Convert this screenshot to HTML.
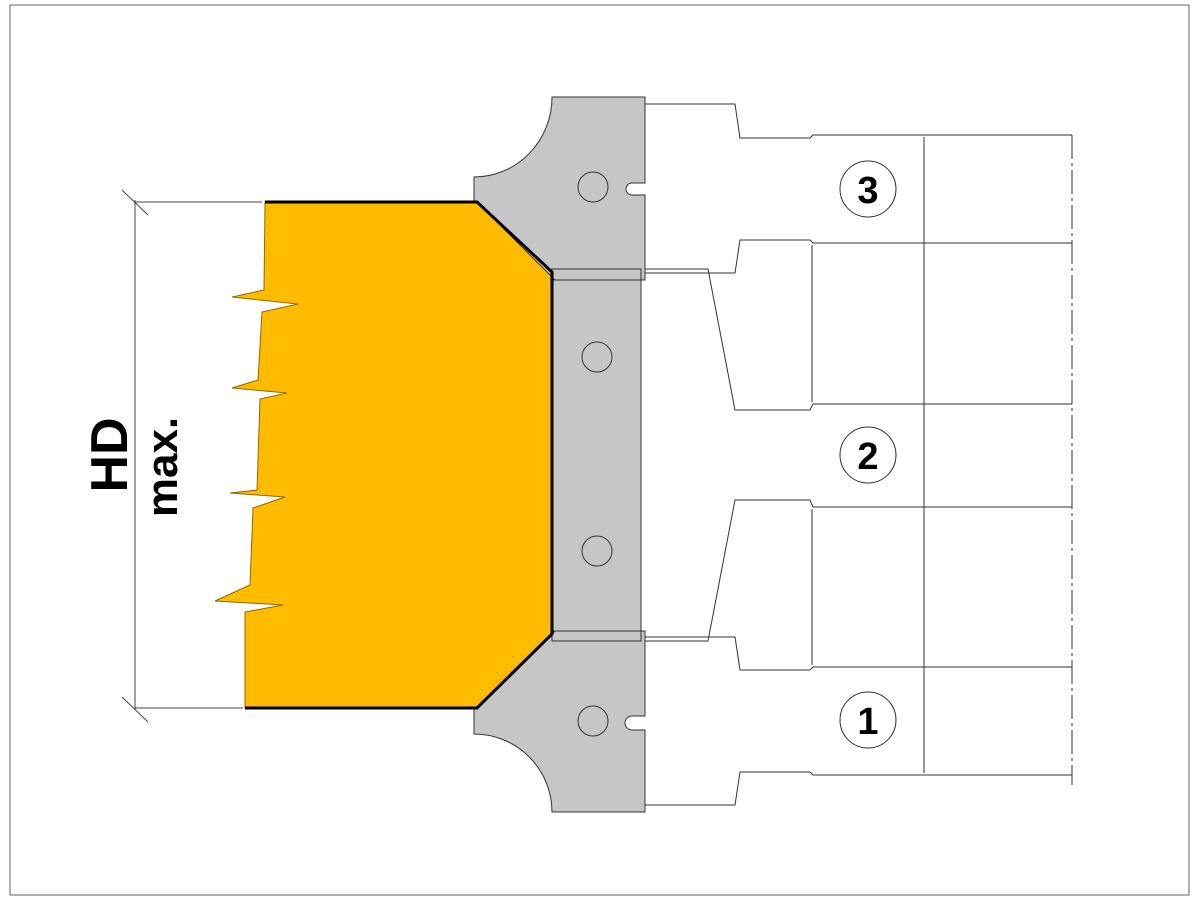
<!DOCTYPE html>
<html><head><meta charset="utf-8"><style>body{margin:0;background:#fff}svg{display:block}</style></head><body>
<svg width="1200" height="900" viewBox="0 0 1200 900" xmlns="http://www.w3.org/2000/svg">
<rect x="10" y="5" width="1179" height="890" fill="none" stroke="#666" stroke-width="1"/>
<!-- dimension -->
<g stroke="#444" stroke-width="1" fill="none">
<line x1="135" y1="200" x2="135" y2="710"/>
<line x1="135" y1="202" x2="262" y2="202"/>
<line x1="135" y1="708" x2="243" y2="708"/>
<line x1="122" y1="190" x2="148" y2="215"/>
<line x1="122" y1="697" x2="148" y2="722"/>
</g>
<text transform="translate(127,455) rotate(-90)" text-anchor="middle" font-family="Liberation Sans, sans-serif" font-weight="bold" font-size="52">HD</text>
<text transform="translate(177,467) rotate(-90)" text-anchor="middle" font-family="Liberation Sans, sans-serif" font-weight="bold" font-size="44">max.</text>
<!-- yellow workpiece -->
<polygon points="265,202 477,202 552,272 552,634 477,708 245,708 245,612 283,605 215,601 250,585 253,508 285,497 230,493 257,490 260,399 287,393 232,388 258,380 262,312 298,304 232,297 264,290" fill="#ffbb00" stroke="#8a6a00" stroke-width="1"/>
<!-- gray pieces -->
<g fill="#c6c6c6" stroke="#333" stroke-width="1">
<rect x="552" y="269" width="89" height="372"/>
<path d="M552,97 L645,97 L645,183 L632,183 A6,6 0 0 0 632,195 L645,195 L645,280 L555,280 L477,202 L474,202 L474,177 A78,80 0 0 0 552,97 Z"/>
<path d="M552,812 L645,812 L645,730 L632,730 A6,6 0 0 1 632,716 L645,716 L645,631 L555,631 L477,708 L474,708 L474,734 A78,78 0 0 1 552,812 Z"/>
<rect x="552" y="269" width="89" height="11" fill="none"/>
<rect x="552" y="631" width="89" height="10" fill="none"/>
</g>
<g stroke="#000" stroke-width="3" fill="none">
<polyline points="265,202 477,202 552,272 552,634 477,708 245,708"/>
</g>
<g fill="none" stroke="#333" stroke-width="1">
<circle cx="593" cy="187" r="15"/>
<circle cx="597" cy="357" r="15"/>
<circle cx="597" cy="551" r="15"/>
<circle cx="593" cy="721" r="15"/>
</g>
<!-- right outlines -->
<g fill="none" stroke="#333" stroke-width="1">
<polyline points="645,104 735,104 740,138 810,138 813,135 1072,135"/>
<polyline points="645,273 735,273 740,240 810,240 813,243 1072,243"/>
<polyline points="645,269 708,269 735,410 810,410 813,404 1072,404"/>
<polyline points="645,641 708,641 735,500 810,500 813,507 1072,507"/>
<polyline points="645,637 735,637 740,670 810,670 813,667 1072,667"/>
<polyline points="645,805 735,805 740,772 810,772 813,775 1072,775"/>
<line x1="812" y1="245" x2="812" y2="402"/>
<line x1="812" y1="509" x2="812" y2="665"/>
<line x1="924" y1="137" x2="924" y2="773"/>
<line x1="1072" y1="135" x2="1072" y2="785" stroke-dasharray="24,4,3,4"/>
</g>
<g fill="none" stroke="#333" stroke-width="1">
<circle cx="868" cy="189" r="28"/>
<circle cx="868" cy="455" r="28"/>
<circle cx="868" cy="720" r="28"/>
</g>
<g font-family="Liberation Sans, sans-serif" font-weight="bold" font-size="38" text-anchor="middle">
<text x="868" y="203">3</text>
<text x="868" y="469">2</text>
<text x="868" y="734">1</text>
</g>
</svg>
</body></html>
